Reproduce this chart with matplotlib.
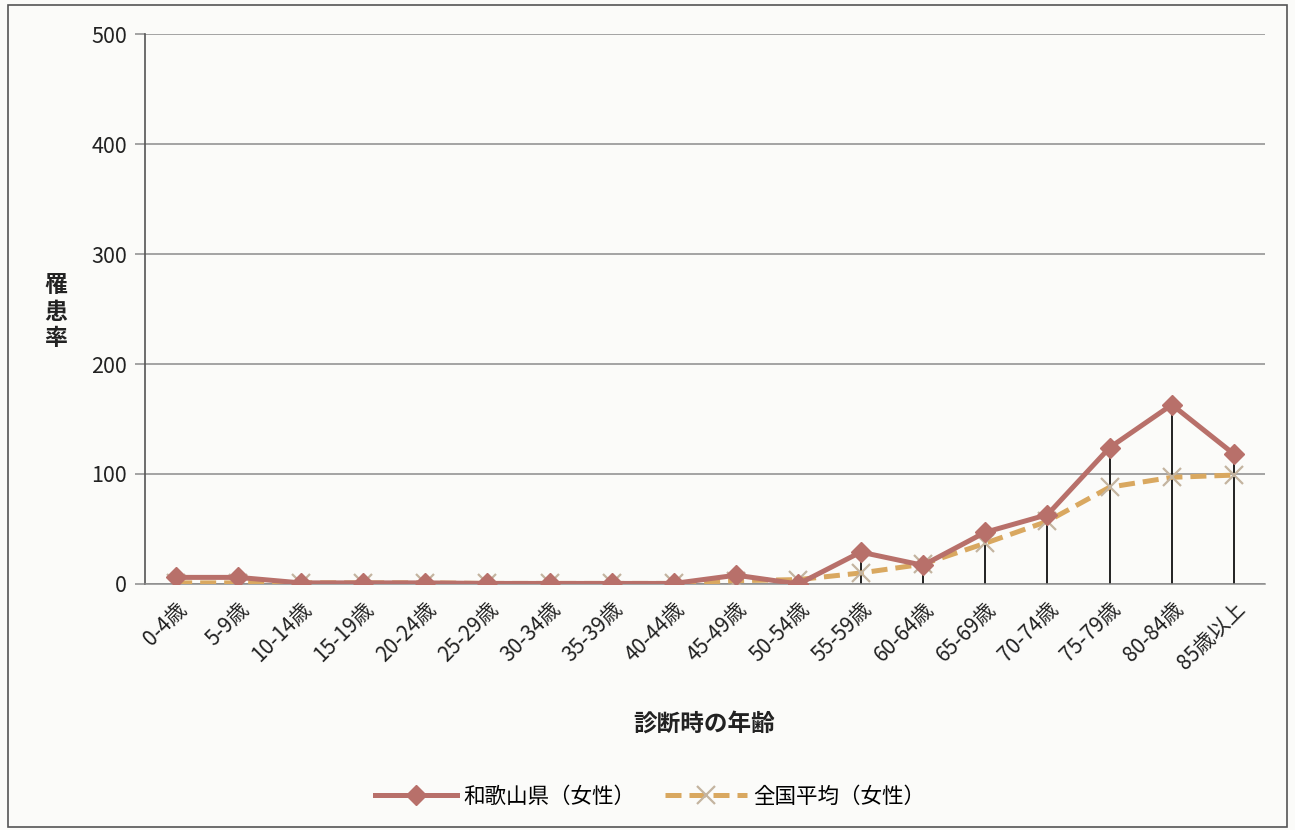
import numpy as np
import matplotlib.pyplot as plt
from matplotlib.patches import Rectangle

plt.rcParams['font.family'] = ['Noto Sans CJK JP', 'DejaVu Sans']

# ============================
# DATA
# ============================
age_groups = ["0-4歳", "5-9歳", "10-14歳", "15-19歳", "20-24歳", "25-29歳",
              "30-34歳", "35-39歳", "40-44歳", "45-49歳", "50-54歳", "55-59歳",
              "60-64歳", "65-69歳", "70-74歳", "75-79歳", "80-84歳", "85歳以上"]

wakayama = [6, 6, 1, 1, 1, 0.5, 0.5, 0.5, 0.5, 8, 0, 29, 17, 47, 63, 124, 163, 118]
national = [1, 1, 1, 1, 1, 0.5, 0.5, 0.5, 0.5, 3, 4, 10, 18, 37, 57, 88, 97, 99]

label_wk = "和歌山県（女性）"
label_nat = "全国平均（女性）"

# ============================
# STYLE
# ============================
C_WK = "#b8706a"
C_NAT = "#d9a860"
C_X = "#c4b4a0"
C_GRID = "#8c8c8c"
BG = "#fbfbf9"

fig = plt.figure(figsize=(12.95, 8.3), dpi=100, facecolor=BG)
ax = fig.add_axes([0.112, 0.2964, 0.865, 0.6626], facecolor=BG)

# outer chart frame
fig.patches.append(Rectangle((0.006, 0.004), 0.988, 0.99, transform=fig.transFigure,
                             fill=False, edgecolor="#555555", linewidth=1.2))

x = np.arange(len(age_groups))

# drop lines to the axis
tops = np.maximum(wakayama, national)
ax.vlines(x, 0, tops, color="#111111", linewidth=1.3, zorder=2)

ax.plot(x, national, color=C_NAT, linestyle=(0, (3.2, 1.6)), linewidth=3.6,
        marker="x", markersize=13, markeredgecolor=C_X, markeredgewidth=1.6,
        label=label_nat, zorder=3)
ax.plot(x, wakayama, color=C_WK, linewidth=3.6, marker="D", markersize=10.5,
        markerfacecolor=C_WK, markeredgecolor=C_WK, label=label_wk, zorder=4)

ax.set_xlim(-0.5, len(age_groups) - 0.5)
ax.set_ylim(0, 500)
ax.set_yticks(np.arange(0, 501, 100))
ax.yaxis.grid(True, color=C_GRID, linewidth=1.1)
ax.set_axisbelow(True)

ax.set_xticks(x)
ax.set_xticklabels(age_groups, rotation=45, ha="right", rotation_mode="anchor",
                   fontsize=15, color="#222222")
ax.tick_params(axis="x", length=0, pad=10)
ax.tick_params(axis="y", length=7, width=1.1, color=C_GRID, labelsize=15.5,
               labelcolor="#222222", pad=6)

for s in ["top", "right"]:
    ax.spines[s].set_visible(False)
ax.spines["left"].set_color("#555555")
ax.spines["left"].set_linewidth(1.2)
ax.spines["bottom"].set_color(C_GRID)
ax.spines["bottom"].set_linewidth(1.1)

# axis titles
fig.text(0.043, 0.624, "罹\n患\n率", fontsize=16.5, fontweight="bold",
         ha="center", va="center", linespacing=1.2, color="#222222")
fig.text(0.544, 0.128, "診断時の年齢", fontsize=17, fontweight="bold",
         ha="center", va="center", color="#222222")

handles, labels = ax.get_legend_handles_labels()
fig.legend(handles[::-1], labels[::-1], loc="center", bbox_to_anchor=(0.502, 0.04),
           ncol=2, frameon=False, fontsize=15.5, handlelength=3.8,
           columnspacing=1.4, handletextpad=0.3)

fig.savefig("out.png", dpi=100, facecolor=BG)
